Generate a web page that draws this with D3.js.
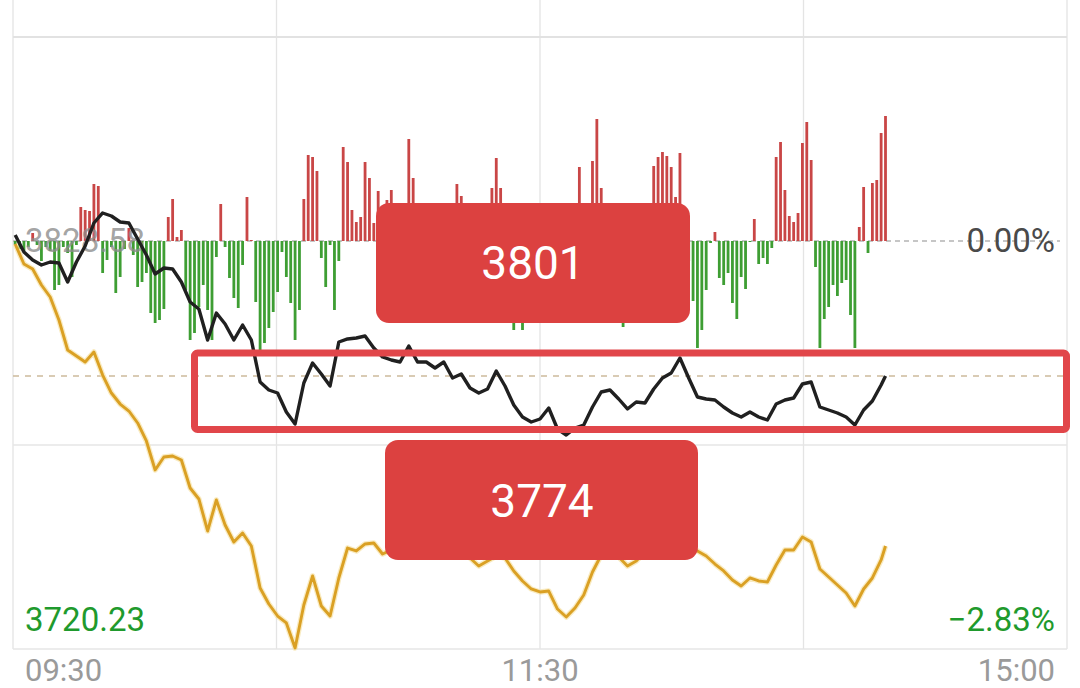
<!DOCTYPE html>
<html>
<head>
<meta charset="utf-8">
<script src="https://cdn.jsdelivr.net/npm/d3@7"></script>
<style>
  html, body { margin: 0; padding: 0; background: #ffffff; }
  svg { display: block; font-family: Roboto, "Noto Sans", sans-serif; }
</style>
</head>
<body>
<svg id="chart" width="1080" height="688"></svg>
<script>
// ---------------- data ----------------
const preClose = 3828.58;
const dayLow = 3720.23;
const pctLabels = ["0.00%", "\u22122.83%"];
const timeLabels = ["09:30", "10:30", "11:30", "14:00", "15:00"];
const shownTimeLabels = ["09:30", "11:30", "15:00"];
const boxLabels = ["3801", "3774"];

// per-minute breadth bars (positive = red, negative = green), minutes 0..199
const barValues = [
  -4, -8, -10, -6, 8, -4, -20, -6, -10, -49,
  -44, -6, -12, -36, -4, 34, 31, 30, 57, 55,
  -32, -19, -6, -52, -36, -8, 13, -14, -46, -41,
  -32, -72, -82, -79, -68, 24, 42, 4, 11, -49,
  -99, -92, -66, -44, -69, -99, -16, 37, -6, -37,
  -57, -67, -24, 44, 1, -61, -112, -102, -87, -71,
  -51, -11, -36, -62, -99, -69, 42, 86, 84, 70,
  -17, -46, -4, -69, -20, 94, 79, 31, 19, 24,
  79, 63, 18, 50, 20, 41, 51, 12, -20, 15,
  102, 63, 8, -25, -40, -15, 10, -30, -50, -20,
  15, 57, 45, 20, -10, -35, -60, -30, 10, 53,
  83, 53, 15, -40, -89, -60, -89, -45, -20, 12,
  -25, -50, -70, -40, 8, 20, -15, -30, 10, 74,
  36, 20, 80, 122, 53, 10, -20, -45, -60, -86,
  -50, -25, 6, -20, -10, 25, 75, 84, 89, 85,
  74, 44, 88, -30, -20, -60, -107, -89, -49, -2,
  9, -37, -44, -32, -62, -78, -36, -48, -1, 22,
  -23, -17, -23, -7, 84, 99, 51, 25, 19, 28,
  98, 119, 81, -26, -107, -78, -66, -44, -55, -42,
  -39, -74, -107, 14, 54, -12, 58, 61, 108, 125
];

// sampled every 2 minutes (0,2,...,198) plus the last minute 199
const lineMinutes = d3.range(0, 200, 2).concat([199]);

const blackValues = [
  3830.17, 3825.66, 3823.53, 3822.21, 3823.00, 3822.74, 3817.69, 3823.00, 3827.25, 3833.36,
  3836.02, 3835.22, 3833.63, 3833.36, 3829.11, 3824.86, 3819.82, 3821.41, 3821.14, 3817.69,
  3812.38, 3810.52, 3802.29, 3809.46, 3806.54, 3802.29, 3806.27, 3802.29, 3791.14, 3789.01,
  3788.21, 3783.17, 3779.98, 3790.87, 3796.18, 3793.26, 3790.07, 3801.76, 3802.56, 3802.82,
  3803.35, 3800.17, 3797.78, 3796.98, 3796.45, 3800.70, 3796.45, 3796.45, 3794.85, 3796.45,
  3792.20, 3793.26, 3789.54, 3788.21, 3789.28, 3794.06, 3790.07, 3785.03, 3781.84, 3780.51,
  3781.31, 3784.23, 3778.65, 3777.06, 3778.92, 3779.72, 3784.50, 3788.48, 3789.01, 3786.62,
  3783.97, 3785.83, 3785.56, 3789.28, 3792.20, 3793.53, 3797.51, 3792.20, 3787.15, 3786.62,
  3786.36, 3784.50, 3782.90, 3781.84, 3783.17, 3781.84, 3781.04, 3785.29, 3786.36, 3786.89,
  3790.60, 3791.14, 3784.50, 3783.70, 3782.90, 3781.84, 3779.72, 3783.70, 3786.09, 3790.34,
  3792.73
];

const goldValues = [
  3827.78, 3822.47, 3821.14, 3816.90, 3813.71, 3807.60, 3799.63, 3798.04, 3796.45, 3799.10,
  3792.99, 3788.21, 3785.29, 3783.43, 3780.25, 3775.47, 3767.77, 3771.22, 3771.48, 3770.42,
  3762.99, 3760.07, 3751.57, 3759.80, 3753.16, 3748.65, 3751.04, 3747.58, 3736.43, 3732.18,
  3728.99, 3727.14, 3720.50, 3731.92, 3739.62, 3731.65, 3728.99, 3739.09, 3747.05, 3746.26,
  3748.12, 3748.38, 3745.46, 3746.52, 3747.85, 3747.05, 3745.99, 3747.85, 3746.52, 3745.19,
  3747.05, 3745.73, 3744.40, 3742.27, 3743.60, 3744.93, 3744.40, 3740.95, 3738.29, 3736.17,
  3735.37, 3735.63, 3730.85, 3728.73, 3731.12, 3734.57, 3740.68, 3745.19, 3745.99, 3744.66,
  3742.27, 3743.60, 3745.99, 3747.05, 3747.85, 3749.18, 3749.18, 3747.58, 3746.26, 3744.93,
  3742.80, 3740.95, 3738.56, 3736.96, 3739.09, 3738.29, 3738.02, 3742.54, 3746.52, 3746.52,
  3749.97, 3748.65, 3741.48, 3739.35, 3737.23, 3735.10, 3731.65, 3736.17, 3739.09, 3743.87,
  3747.58
];

// ---------------- layout ----------------
const plotLeft = 13, plotRight = 1067, plotTop = 37, plotBottom = 649;
const svg = d3.select("#chart");

const x = d3.scaleLinear().domain([-0.5, 240.5]).range([plotLeft, plotRight]);
const yMax = preClose + (preClose - dayLow) / 2;
const y = d3.scaleLinear().domain([dayLow, yMax]).range([plotBottom, plotTop]);
const y0 = y(preClose);
const barY = d3.scaleLinear().domain([0, 100]).range([y0, y0 - 100]);
const gridX = d3.scalePoint().domain(timeLabels).range([plotLeft, plotRight]);

// ---------------- grid ----------------
const g = svg.append("g");
g.selectAll("line.vg").data(timeLabels).enter().append("line")
  .attr("x1", d => gridX(d)).attr("x2", d => gridX(d))
  .attr("y1", 0).attr("y2", plotBottom)
  .attr("stroke", "#e4e4e4").attr("stroke-width", 1.3);

const solidLevels = [yMax, (preClose + dayLow) / 2, dayLow];
g.selectAll("line.hg").data(solidLevels).enter().append("line")
  .attr("x1", plotLeft).attr("x2", plotRight)
  .attr("y1", d => y(d)).attr("y2", d => y(d))
  .attr("stroke", (d, i) => i === 0 ? "#e2e2e2" : "#e6e6e6")
  .attr("stroke-width", (d, i) => i === 0 ? 2.2 : 1.3);

// pre-close dashed line
g.append("line")
  .attr("x1", plotLeft).attr("x2", 1060)
  .attr("y1", y0).attr("y2", y0)
  .attr("stroke", "#b4b4b4").attr("stroke-width", 1.6)
  .attr("stroke-dasharray", "5,4");

// last price dashed line
const lastPrice = blackValues[blackValues.length - 1];
g.append("line")
  .attr("x1", plotLeft).attr("x2", plotRight)
  .attr("y1", y(lastPrice)).attr("y2", y(lastPrice))
  .attr("stroke", "#cdbb9c").attr("stroke-width", 1.5)
  .attr("stroke-dasharray", "6,6");

// ---------------- bars ----------------
const barW = 2.8;
svg.append("g").selectAll("rect").data(barValues).enter().append("rect")
  .attr("x", (d, i) => x(i) - barW / 2)
  .attr("y", d => d >= 0 ? barY(d) : y0)
  .attr("width", barW)
  .attr("height", d => Math.max(0.8, Math.abs(barY(d) - y0)))
  .attr("fill", d => d >= 0 ? "#c94646" : "#3e9e33");

// ---------------- axis-like labels ----------------
const labelFont = 33;
svg.append("text").attr("x", 25).attr("y", y0 + 11)
  .attr("font-size", labelFont).attr("fill", "#8c8c8c").attr("fill-opacity", 0.8)
  .text(preClose.toFixed(2));
svg.append("text").attr("x", 1055).attr("y", y0 + 11).attr("text-anchor", "end")
  .attr("font-size", labelFont).attr("fill", "#4a4a4a")
  .text(pctLabels[0]);
svg.append("text").attr("x", 25).attr("y", 631)
  .attr("font-size", labelFont).attr("fill", "#1f9a2d")
  .text(dayLow.toFixed(2));
svg.append("text").attr("x", 1055).attr("y", 631).attr("text-anchor", "end")
  .attr("font-size", labelFont).attr("fill", "#1f9a2d")
  .text(pctLabels[1]);

svg.append("g").selectAll("text").data(shownTimeLabels).enter().append("text")
  .attr("x", (d, i) => i === 0 ? gridX(d) + 12 : (i === 2 ? gridX(d) - 12 : gridX(d)))
  .attr("y", 681)
  .attr("text-anchor", (d, i) => i === 0 ? "start" : (i === 2 ? "end" : "middle"))
  .attr("font-size", 31).attr("fill", "#9a9a9a")
  .text(d => d);

// ---------------- lines ----------------
const line = d3.line().x(d => x(d[0])).y(d => y(d[1])).curve(d3.curveLinear);
const goldPts = lineMinutes.map((m, i) => [m, goldValues[i]]);
const blackPts = lineMinutes.map((m, i) => [m, blackValues[i]]);

svg.append("path").attr("d", line(goldPts))
  .attr("fill", "none").attr("stroke", "#f6e2a6").attr("stroke-width", 5.5)
  .attr("stroke-linejoin", "round").attr("stroke-opacity", 0.7);
svg.append("path").attr("d", line(goldPts))
  .attr("fill", "none").attr("stroke", "#daa024").attr("stroke-width", 2.9)
  .attr("stroke-linejoin", "round");
svg.append("path").attr("d", line(blackPts))
  .attr("fill", "none").attr("stroke", "#202020").attr("stroke-width", 3.4)
  .attr("stroke-linejoin", "round");

// ---------------- annotations ----------------
const boxFill = "#dc4140";
const ann = svg.append("g");
ann.append("rect").attr("x", 376).attr("y", 203).attr("width", 314).attr("height", 120)
  .attr("rx", 13).attr("fill", boxFill);
ann.append("text").attr("x", 533).attr("y", 279).attr("text-anchor", "middle")
  .attr("font-size", 46).attr("fill", "#ffffff").text(boxLabels[0]);

ann.append("rect").attr("x", 385).attr("y", 440).attr("width", 313).attr("height", 120)
  .attr("rx", 13).attr("fill", boxFill);
ann.append("text").attr("x", 542).attr("y", 517).attr("text-anchor", "middle")
  .attr("font-size", 46).attr("fill", "#ffffff").text(boxLabels[1]);

ann.append("rect").attr("x", 194.5).attr("y", 353).attr("width", 872).attr("height", 76.5)
  .attr("rx", 3).attr("fill", "none").attr("stroke", "#e1464a").attr("stroke-width", 7);
</script>
</body>
</html>
